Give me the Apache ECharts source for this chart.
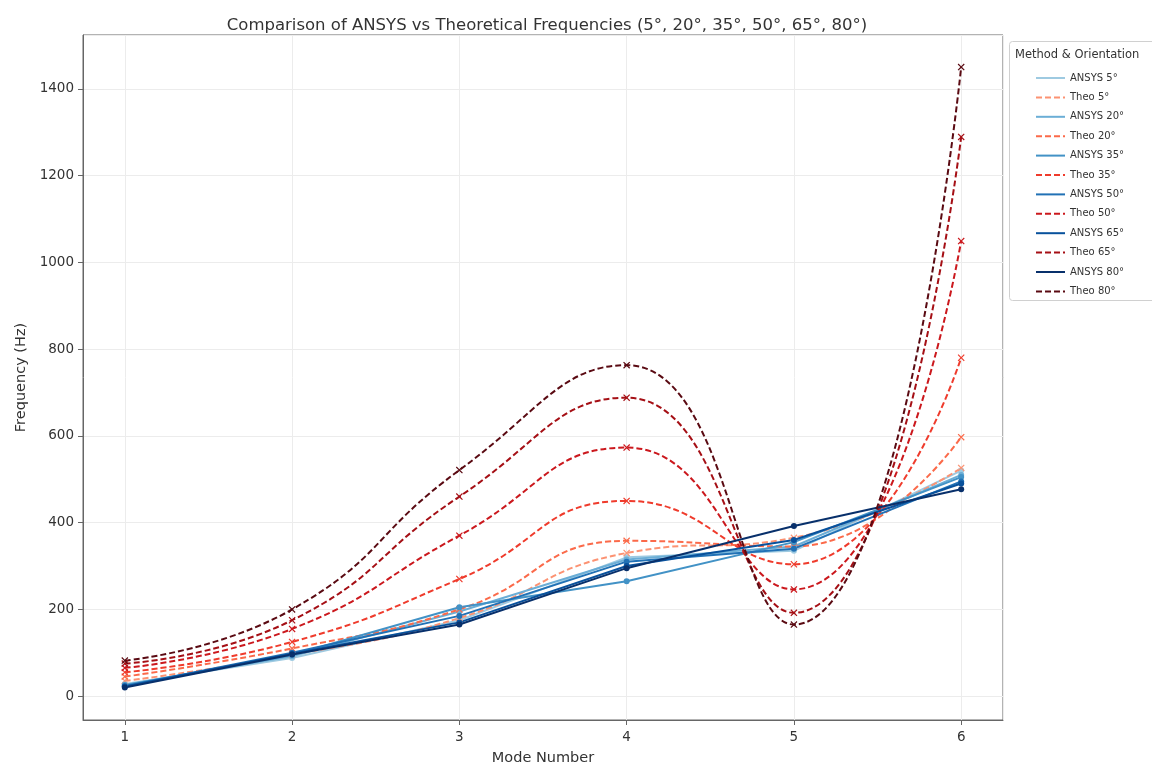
<!DOCTYPE html>
<html>
<head>
<meta charset="utf-8">
<script src="https://cdn.jsdelivr.net/npm/echarts@6/dist/echarts.min.js"></script>
<style>html,body{margin:0;padding:0;background:#fff}#chart{width:1152px;height:765px}</style>
</head>
<body>
<div id="chart"></div>
<script>
// ---- data ----
const modes = [1, 2, 3, 4, 5, 6];
const angles = ['5°', '20°', '35°', '50°', '65°', '80°'];
const ansys5  = [28, 88, 175, 320, 335, 520];
const ansys20 = [26, 92, 195, 315, 345, 510];
const ansys35 = [25, 95, 205, 265, 355, 505];
const ansys50 = [23, 100, 185, 310, 340, 495];
const ansys65 = [22, 98, 170, 300, 360, 490];
const ansys80 = [20, 96, 165, 295, 392, 477];
const theo5  = [35, 95, 180, 330, 365, 526];
const theo20 = [45, 110, 200, 358, 345, 597];
const theo35 = [55, 125, 270, 450, 304, 780];
const theo50 = [65, 155, 370, 573, 246, 1049];
const theo65 = [75, 175, 460, 688, 192, 1289];
const theo80 = [82, 200, 521, 763, 165, 1450];
const yTicks = [0, 200, 400, 600, 800, 1000, 1200, 1400];

const ansysData = [ansys5, ansys20, ansys35, ansys50, ansys65, ansys80];
const theoData = [theo5, theo20, theo35, theo50, theo65, theo80];
const ansysColors = ['#9ecae1', '#6baed6', '#4292c6', '#2171b5', '#08519c', '#08306b'];
const theoColors = ['#fc9272', '#fb6a4a', '#ef3b2c', '#cb181d', '#a50f15', '#5a0a12'];
const xSymbol = 'path://M0,1.2L1.2,0L5,3.8L8.8,0L10,1.2L6.2,5L10,8.8L8.8,10L5,6.2L1.2,10L0,8.8L3.8,5Z';

const pairs = v => modes.map((m, i) => [m, v[i]]);
const series = [];
angles.forEach((a, k) => {
  series.push({
    name: 'ANSYS ' + a, type: 'line', data: pairs(ansysData[k]),
    symbol: 'circle', symbolSize: 6,
    lineStyle: { color: ansysColors[k], width: 2 },
    itemStyle: { color: ansysColors[k] }
  });
  series.push({
    name: 'Theo ' + a, type: 'line', data: pairs(theoData[k]), smooth: 0.5,
    symbol: xSymbol, symbolSize: 7,
    lineStyle: { color: theoColors[k], width: 2, type: [6, 3] },
    itemStyle: { color: theoColors[k] }
  });
});

const chart = echarts.init(document.getElementById('chart'), null, { renderer: 'canvas' });
const font = 'DejaVu Sans';
chart.setOption({
  animation: false,
  backgroundColor: '#fff',
  textStyle: { fontFamily: font },
  title: {
    text: 'Comparison of ANSYS vs Theoretical Frequencies (5°, 20°, 35°, 50°, 65°, 80°)',
    left: 542, top: 12, textAlign: 'center',
    textStyle: { fontFamily: font, fontSize: 16.5, fontWeight: 'normal', color: '#333' }
  },
  grid: { left: 83, right: 149, top: 35, bottom: 45, show: true, borderColor: '#666', borderWidth: 1,
    containLabel: false, outerBoundsMode: 'none' },
  xAxis: {
    type: 'value', min: 0.75, max: 6.25, minInterval: 1, maxInterval: 1,
    name: 'Mode Number', nameLocation: 'middle', nameGap: 31,
    nameTextStyle: { fontSize: 14.5, color: '#333', fontFamily: font },
    axisLine: { onZero: false, lineStyle: { color: '#666' } },
    axisTick: { show: true, length: 5, lineStyle: { color: '#666' } },
    axisLabel: { fontSize: 13.5, color: '#333', margin: 10, showMinLabel: false, showMaxLabel: false,
      formatter: v => Number.isInteger(v) ? String(v) : '' },
    splitLine: { show: true, lineStyle: { color: '#ececec', width: 1 } }
  },
  yAxis: {
    type: 'value', min: -55, max: 1524, minInterval: 200, maxInterval: 200, splitNumber: 8,
    name: 'Frequency (Hz)', nameLocation: 'middle', nameGap: 52,
    nameTextStyle: { fontSize: 14.5, color: '#333', fontFamily: font },
    axisLine: { show: true, onZero: false, lineStyle: { color: '#666' } },
    axisTick: { show: true, length: 5, lineStyle: { color: '#666' } },
    axisLabel: { fontSize: 13.5, color: '#333', margin: 9, showMinLabel: false, showMaxLabel: false,
      formatter: v => yTicks.includes(v) ? String(v) : '' },
    splitLine: { show: true, lineStyle: { color: '#ececec', width: 1 } }
  },
  legend: {
    orient: 'vertical', left: 1030, top: 68,
    itemWidth: 29, itemHeight: 10, itemGap: 9.4,
    itemStyle: { opacity: 0 },
    textStyle: { fontSize: 10, color: '#333', fontFamily: font },
    data: series.map(s => s.name)
  },
  graphic: [
    { type: 'rect', shape: { x: 1009.5, y: 41.5, width: 150, height: 259, r: 3 },
      style: { fill: '#fff', stroke: '#d0d0d0', lineWidth: 1 }, z: -1 },
    { type: 'text', left: 1015, top: 49,
      style: { text: 'Method & Orientation', fontSize: 11.5, fill: '#333', fontFamily: font } }
  ],
  series: series
});
</script>
</body>
</html>
